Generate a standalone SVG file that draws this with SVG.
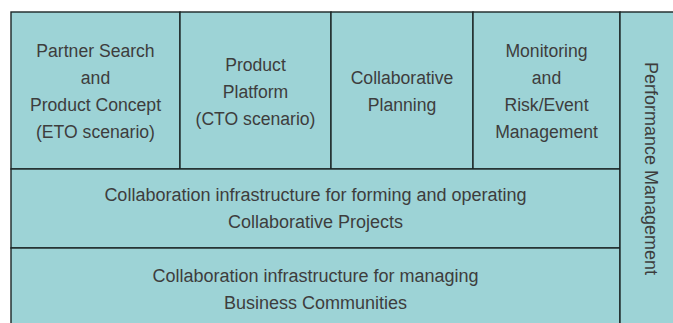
<svg xmlns="http://www.w3.org/2000/svg" width="673" height="323" viewBox="0 0 673 323">
<style>
.b{fill:#9dd3d6;stroke:#1c2626;stroke-width:1.4}
.t{font-family:"Liberation Sans",Arial,sans-serif;font-size:17.6px;fill:#3d3d3d;text-anchor:middle}
.w{font-size:18px}
</style>
<rect width="673" height="323" fill="#ffffff"/>
<g id="partner-search">
<rect class="b" x="11" y="12" width="169" height="157"/>
<text class="t" x="95.5" y="57">Partner Search</text>
<text class="t" x="95.5" y="84">and</text>
<text class="t" x="95.5" y="111">Product Concept</text>
<text class="t" x="95.5" y="138">(ETO scenario)</text>
</g>
<g id="product-platform">
<rect class="b" x="180" y="12" width="151" height="157"/>
<text class="t" x="255.5" y="71">Product</text>
<text class="t" x="255.5" y="98">Platform</text>
<text class="t" x="255.5" y="125">(CTO scenario)</text>
</g>
<g id="collaborative-planning">
<rect class="b" x="331" y="12" width="142" height="157"/>
<text class="t" x="402" y="84">Collaborative</text>
<text class="t" x="402" y="111">Planning</text>
</g>
<g id="monitoring">
<rect class="b" x="473" y="12" width="147" height="157"/>
<text class="t" x="546.5" y="57">Monitoring</text>
<text class="t" x="546.5" y="84">and</text>
<text class="t" x="546.5" y="111">Risk/Event</text>
<text class="t" x="546.5" y="138">Management</text>
</g>
<g id="collab-projects">
<rect class="b" x="11" y="169" width="609" height="79"/>
<text class="t w" x="315.5" y="201">Collaboration infrastructure for forming and operating</text>
<text class="t w" x="315.5" y="228">Collaborative Projects</text>
</g>
<g id="business-communities">
<rect class="b" x="11" y="248" width="609" height="80"/>
<text class="t w" x="315.5" y="282">Collaboration infrastructure for managing</text>
<text class="t w" x="315.5" y="309">Business Communities</text>
</g>
<g id="performance-management">
<rect class="b" x="620" y="12" width="60" height="316"/>
<text class="t w" transform="translate(645,168.5) rotate(90)" x="0" y="0">Performance Management</text>
</g>
<g id="connectors"></g>
</svg>
